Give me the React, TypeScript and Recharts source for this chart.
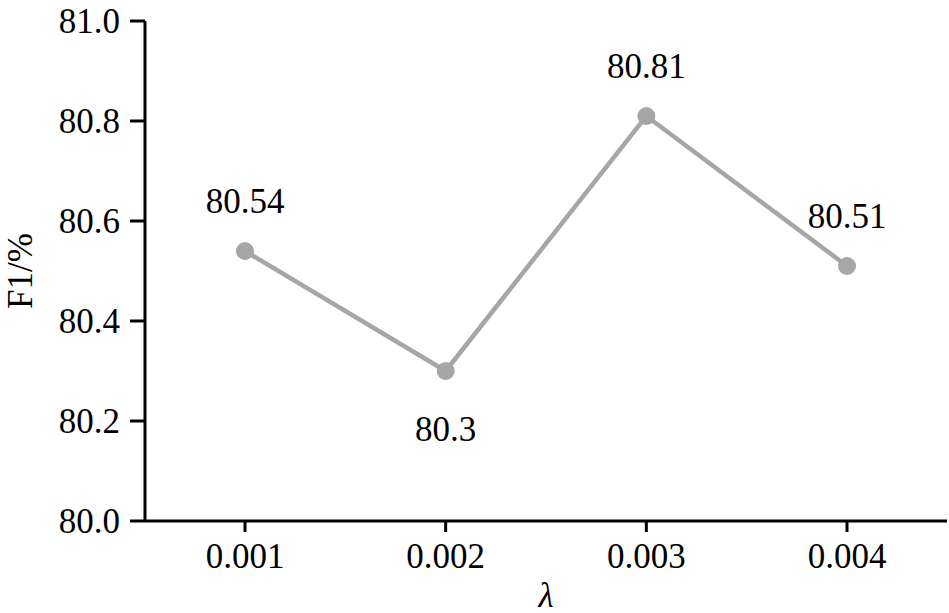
import { LineChart, Line, XAxis, YAxis, LabelList, Label } from "recharts";

/* ── Data ─────────────────────────────────────────────────── */
const lambdas = ["0.001", "0.002", "0.003", "0.004"];
const f1Scores = [80.54, 80.3, 80.81, 80.51];
const yTicks = [80.0, 80.2, 80.4, 80.6, 80.8, 81.0];

const data = lambdas.map((lambda, i) => ({ lambda, f1: f1Scores[i] }));

const FONT = "'Liberation Serif', 'Times New Roman', serif";
const GREY = "#a6a6a6";

/* an inner point lower than both neighbours gets its label underneath */
function isDip(i: number) {
  if (i <= 0 || i >= f1Scores.length - 1) return false;
  const v = f1Scores[i];
  return v < f1Scores[i - 1] && v < f1Scores[i + 1];
}

function PointLabel(props: any) {
  const { x, y, value, index } = props;
  const below = isDip(index);
  return (
    <text
      x={x}
      y={below ? y + 70 : y - 38}
      textAnchor="middle"
      fontFamily={FONT}
      fontSize={35}
      fill="#000"
    >
      {value}
    </text>
  );
}

function YTitle(props: any) {
  const { viewBox } = props;
  const cy = viewBox.y + viewBox.height / 2;
  return (
    <text
      x={20}
      y={cy}
      transform={`rotate(-90, 20, ${cy})`}
      textAnchor="middle"
      dominantBaseline="central"
      fontFamily={FONT}
      fontSize={35}
      fill="#000"
    >
      F1/%
    </text>
  );
}

/* ── Component ────────────────────────────────────────────── */
export default function App() {
  return (
    <div style={{ position: "absolute", left: 0, top: 0, background: "#fff" }}>
      <LineChart
        width={949}
        height={613}
        data={data}
        margin={{ top: 21, right: 2, bottom: 2, left: 0 }}
      >
        <XAxis
          dataKey="lambda"
          height={90}
          padding={{ left: 100, right: 100 }}
          axisLine={{ stroke: "#000", strokeWidth: 3 }}
          tickLine={{ stroke: "#000", strokeWidth: 3 }}
          tickSize={11}
          tickMargin={11}
          tick={{ fill: "#000", fontFamily: FONT, fontSize: 35 }}
        >
          <Label
            value="λ"
            position="insideBottom"
            offset={4}
            fontFamily={FONT}
            fontSize={35}
            fontStyle="italic"
            fill="#000"
          />
        </XAxis>
        <YAxis
          width={145}
          domain={[80, 81]}
          ticks={yTicks}
          tickFormatter={(v: number) => v.toFixed(1)}
          axisLine={{ stroke: "#000", strokeWidth: 3 }}
          tickLine={{ stroke: "#000", strokeWidth: 3 }}
          tickSize={15}
          tickMargin={10}
          tick={{ fill: "#000", fontFamily: FONT, fontSize: 35 }}
        >
          <Label content={<YTitle />} />
        </YAxis>
        <Line
          dataKey="f1"
          stroke={GREY}
          strokeWidth={4.5}
          dot={{ r: 9, fill: GREY, stroke: GREY, strokeWidth: 0 }}
          isAnimationActive={false}
        >
          <LabelList dataKey="f1" content={<PointLabel />} />
        </Line>
      </LineChart>
    </div>
  );
}
